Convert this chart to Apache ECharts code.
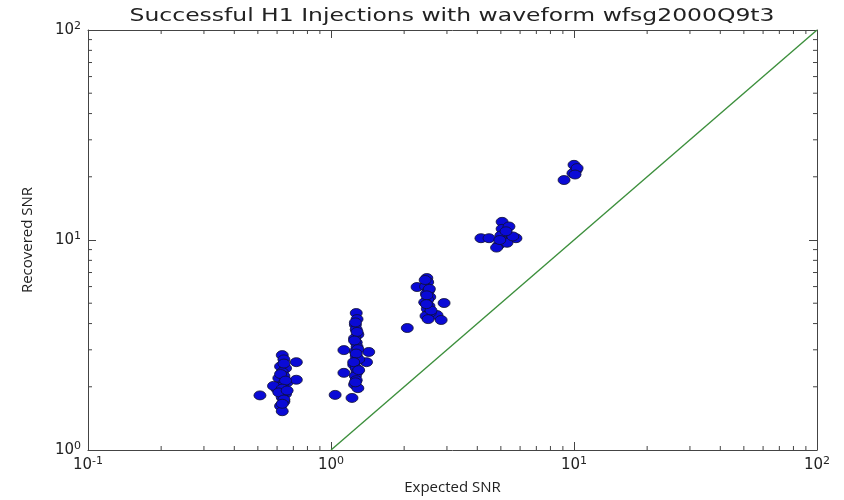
<!DOCTYPE html>
<html>
<head>
<meta charset="utf-8">
<script src="https://cdn.jsdelivr.net/npm/echarts@6/dist/echarts.min.js"></script>
<style>
  html, body { margin: 0; padding: 0; background: #fff; }
  #chart { width: 844px; height: 500px; }
</style>
</head>
<body>
<div id="chart"></div>
<script>
// Injection recovery: expected vs recovered SNR, grouped by injection amplitude
const expectedSnr = [
  0.51, 0.60, 0.63, 0.64, 0.62, 0.65, 0.63, 0.72, 0.64, 0.61, 0.66, 0.63, 0.72, 0.62, 0.64, 0.58, 0.65, 0.63, 0.64, 0.62, 0.63,
  0.64, 0.62, 0.65, 0.63, 0.61, 0.64, 0.66, 0.63,
  1.04, 1.22, 1.13, 1.43, 1.40, 1.13, 1.27, 1.28, 1.26, 1.27, 1.29, 1.25, 1.27, 1.28, 1.26, 1.27, 1.30, 1.24, 1.27, 1.28, 1.26, 1.27, 1.25, 1.29,
  1.26, 1.28, 1.25, 1.29, 1.27, 1.24, 1.30, 1.26,
  2.06, 2.48, 2.26, 2.92, 2.73, 2.84, 2.50, 2.45, 2.52, 2.47, 2.55, 2.50, 2.43, 2.53, 2.49, 2.56, 2.46, 2.51,
  2.44, 2.54, 2.48, 2.58, 2.47,
  4.14, 4.47, 5.06, 5.06, 5.77, 4.90, 5.20, 5.40, 5.00, 5.10, 5.30, 4.80, 5.60, 5.25, 4.95,
  9.1, 10.0, 10.2, 9.9, 10.3, 10.1
];
const recoveredSnr = [
  1.82, 1.95, 2.83, 2.70, 2.50, 2.45, 2.35, 2.62, 2.25, 2.20, 2.10, 2.05, 2.16, 2.00, 1.90, 2.02, 1.85, 1.78, 1.70, 1.62, 1.53,
  2.58, 2.30, 2.14, 1.96, 1.88, 1.74, 1.92, 1.66,
  1.83, 1.77, 2.99, 2.93, 2.62, 2.33, 4.49, 4.20, 3.95, 3.75, 3.55, 3.40, 3.25, 3.10, 2.95, 2.80, 2.70, 2.55, 2.45, 2.35, 2.25, 2.15, 2.05, 1.97,
  4.05, 3.65, 3.32, 3.02, 2.88, 2.62, 2.40, 2.10,
  3.81, 6.59, 5.97, 5.01, 4.39, 4.16, 6.30, 6.00, 5.75, 5.55, 5.35, 5.20, 5.05, 4.85, 4.70, 4.50, 4.35, 4.20,
  6.45, 5.85, 5.45, 4.62, 4.95,
  10.2, 10.2, 12.2, 11.3, 10.2, 9.46, 10.7, 11.6, 10.5, 9.9, 9.7, 9.2, 10.4, 11.0, 10.0,
  19.3, 22.8, 21.5, 20.8, 22.0, 20.5
];
// Reference line: recovered == expected
const identityLine = [[1, 1], [100, 100]];

const chartTitle = 'Successful H1 Injections with waveform wfsg2000Q9t3';

const xRange = [0.1, 100];
const yRange = [1, 100];
const minorMult = [2, 3, 4, 5, 6, 7, 8, 9];
const xDecades = [0.1, 1, 10];
const yDecades = [1, 10];

const xMinor = [];
xDecades.forEach(d => minorMult.forEach(m => xMinor.push(m * d)));
const yMinor = [];
yDecades.forEach(d => minorMult.forEach(m => yMinor.push(m * d)));

const supFmt = v => {
  const e = Math.round(Math.log10(v));
  return '10{sup|' + e + '}';
};
const labelRich = {
  sup: { fontSize: 11, verticalAlign: 'top', padding: [0, 0, 8, 0], fontFamily: 'DejaVu Sans', color: '#222' }
};
const frame = { show: true, lineStyle: { color: '#444', width: 1 } };
const majorTick = { show: true, inside: true, length: 8, lineStyle: { color: '#444' } };

const chart = echarts.init(document.getElementById('chart'));
chart.setOption({
  animation: false,
  backgroundColor: '#fff',
  graphic: [{
    // wide title text, stretched horizontally around its centre
    type: 'text',
    x: 452, y: 8,
    scaleX: 1.38,
    style: {
      text: chartTitle,
      font: '17px "DejaVu Sans"',
      fill: '#222',
      textAlign: 'center',
      textVerticalAlign: 'top'
    }
  }],
  grid: { left: 88, right: 27, top: 30, bottom: 50 },
  xAxis: [{
    type: 'log', logBase: 10, min: xRange[0], max: xRange[1],
    name: 'Expected SNR', nameLocation: 'middle', nameGap: 30,
    nameTextStyle: { fontFamily: 'Open Sans', fontSize: 15, color: '#222' },
    axisLine: frame, axisTick: majorTick,
    axisLabel: { formatter: supFmt, rich: labelRich, fontFamily: 'DejaVu Sans', fontSize: 15, color: '#222', margin: 6 },
    splitLine: { show: false }
  }, {
    type: 'log', logBase: 10, min: xRange[0], max: xRange[1], position: 'top',
    axisLine: frame, axisTick: majorTick,
    axisLabel: { show: false }, splitLine: { show: false }
  }],
  yAxis: [{
    type: 'log', logBase: 10, min: yRange[0], max: yRange[1],
    name: 'Recovered SNR', nameLocation: 'middle', nameGap: 53,
    nameTextStyle: { fontFamily: 'Open Sans', fontSize: 15, color: '#222' },
    axisLine: frame, axisTick: majorTick,
    axisLabel: { formatter: supFmt, rich: labelRich, fontFamily: 'DejaVu Sans', fontSize: 15, color: '#222', margin: 7 },
    splitLine: { show: false }
  }, {
    type: 'log', logBase: 10, min: yRange[0], max: yRange[1], position: 'right',
    axisLine: frame, axisTick: majorTick,
    axisLabel: { show: false }, splitLine: { show: false }
  }],
  series: [
    {
      type: 'line',
      data: identityLine,
      symbol: 'none',
      lineStyle: { color: '#3c8f3c', width: 1.4 },
      silent: true, z: 2
    },
    {
      type: 'scatter',
      data: expectedSnr.map((x, i) => [x, recoveredSnr[i]]),
      symbol: 'circle',
      symbolSize: [12, 9],
      itemStyle: { color: '#0a0ad6', opacity: 1, borderColor: '#101030', borderWidth: 0.8 },
      z: 3
    },
    {
      // minor ticks along the bottom and top edges
      type: 'custom',
      data: xMinor,
      silent: true,
      renderItem: (params, api) => {
        const v = api.value(0);
        const b = api.coord([v, yRange[0]]);
        const t = api.coord([v, yRange[1]]);
        const style = { stroke: '#444', lineWidth: 1 };
        return { type: 'group', children: [
          { type: 'line', shape: { x1: b[0], y1: b[1], x2: b[0], y2: b[1] - 4 }, style },
          { type: 'line', shape: { x1: t[0], y1: t[1], x2: t[0], y2: t[1] + 4 }, style }
        ]};
      },
      encode: { x: 0 }
    },
    {
      // minor ticks along the left and right edges
      type: 'custom',
      data: yMinor.map(v => [1, v]),
      silent: true,
      renderItem: (params, api) => {
        const v = api.value(1);
        const l = api.coord([xRange[0], v]);
        const r = api.coord([xRange[1], v]);
        const style = { stroke: '#444', lineWidth: 1 };
        return { type: 'group', children: [
          { type: 'line', shape: { x1: l[0], y1: l[1], x2: l[0] + 4, y2: l[1] }, style },
          { type: 'line', shape: { x1: r[0], y1: r[1], x2: r[0] - 4, y2: r[1] }, style }
        ]};
      },
      encode: { x: 0, y: 1 }
    }
  ]
});
</script>
</body>
</html>
